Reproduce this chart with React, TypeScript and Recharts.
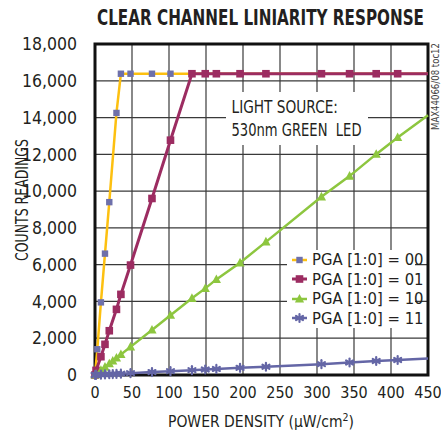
import React from 'react';
import { LineChart, Line, XAxis, YAxis, CartesianGrid, ReferenceArea, Legend } from 'recharts';

const FONT = '"Liberation Sans Narrow", "DejaVu Sans Condensed", Arial, sans-serif';
const INK = '#231f20';

const X_TICKS = [0, 50, 100, 150, 200, 250, 300, 350, 400, 450];
const Y_TICKS = [0, 2000, 4000, 6000, 8000, 10000, 12000, 14000, 16000, 18000];

const SERIES_NAMES = ['PGA [1:0] = 00', 'PGA [1:0] = 01', 'PGA [1:0] = 10', 'PGA [1:0] = 11'];

const pga00X = [0, 3.1, 8, 13.5, 19.3, 29, 35, 48, 77, 102, 450];
const pga00Y = [0, 1400, 3950, 6600, 9400, 14250, 16383, 16383, 16383, 16383, 16383];

const pga01X = [0, 1.4, 8, 13.5, 19.3, 29, 35, 48, 77, 102, 131, 149, 164, 196, 231, 306, 344, 380, 409, 450];
const pga01Y = [0, 250, 995, 1668, 2407, 3570, 4385, 5978, 9600, 12770, 16383, 16383, 16383, 16383, 16383, 16383, 16383, 16383, 16383, 16383];

const pga10X = [0, 1.4, 8, 13.5, 19.3, 24, 29, 35, 48, 77, 102, 131, 149, 164, 196, 231, 306, 344, 380, 409, 450];
const pga10Y = [0, 45, 255, 430, 615, 765, 925, 1115, 1530, 2450, 3250, 4170, 4710, 5200, 6100, 7240, 9690, 10815, 12010, 12920, 14130];

const pga11X = [0, 1.4, 8, 13.5, 19.3, 24, 29, 35, 48, 77, 102, 131, 149, 164, 196, 231, 306, 344, 380, 409, 450];
const pga11Y = [0, 5, 20, 30, 40, 50, 60, 72, 100, 160, 210, 265, 300, 330, 390, 450, 590, 680, 760, 815, 900];

const toPoints = (xs: number[], ys: number[]) => xs.map((x, i) => ({ x, y: ys[i] }));

type Kind = 'square' | 'bigsquare' | 'triangle' | 'asterisk';

const META = [
  { name: SERIES_NAMES[0], line: '#FDC010', marker: '#6E70AA', kind: 'square' as Kind, width: 2.5, data: toPoints(pga00X, pga00Y) },
  { name: SERIES_NAMES[1], line: '#9C2C61', marker: '#9C2C61', kind: 'bigsquare' as Kind, width: 3, data: toPoints(pga01X, pga01Y) },
  { name: SERIES_NAMES[2], line: '#8DC63F', marker: '#8DC63F', kind: 'triangle' as Kind, width: 2.5, data: toPoints(pga10X, pga10Y) },
  { name: SERIES_NAMES[3], line: '#6466A6', marker: '#6466A6', kind: 'asterisk' as Kind, width: 2.5, data: toPoints(pga11X, pga11Y) },
];

function Marker({ kind, color, cx, cy }: { kind: Kind; color: string; cx: number; cy: number }) {
  if (kind === 'square') {
    return <rect x={cx - 3.2} y={cy - 3.2} width={6.4} height={6.4} fill={color} />;
  }
  if (kind === 'bigsquare') {
    return <rect x={cx - 3.8} y={cy - 3.8} width={7.6} height={7.6} fill={color} />;
  }
  if (kind === 'triangle') {
    return <polygon points={`${cx},${cy - 5} ${cx + 4.6},${cy + 3.6} ${cx - 4.6},${cy + 3.6}`} fill={color} />;
  }
  const r = 4;
  return (
    <g stroke={color} strokeWidth={2.2} strokeLinecap="round">
      <line x1={cx} y1={cy - r} x2={cx} y2={cy + r} />
      <line x1={cx - r * 0.87} y1={cy - r * 0.5} x2={cx + r * 0.87} y2={cy + r * 0.5} />
      <line x1={cx - r * 0.87} y1={cy + r * 0.5} x2={cx + r * 0.87} y2={cy - r * 0.5} />
    </g>
  );
}

const makeDot = (m: (typeof META)[number]) => (props: any) => {
  const { cx, cy, index } = props;
  const key = `${m.name}-${index}`;
  if (cx == null || cy == null || index === m.data.length - 1) return <g key={key} />;
  return (
    <g key={key}>
      <Marker kind={m.kind} color={m.marker} cx={cx} cy={cy} />
    </g>
  );
};

function LegendBox(props: any) {
  const payload = props.payload || [];
  return (
    <div style={{ background: '#fff', width: 128, fontFamily: FONT, fontSize: 16.5, color: INK }}>
      {payload.map((p: any) => {
        const m = META.find((s) => s.name === p.value) || META[0];
        return (
          <div key={p.value} style={{ display: 'flex', alignItems: 'center', height: 19.5 }}>
            <svg width={26} height={12} style={{ flex: '0 0 auto' }}>
              <line x1={5} y1={6} x2={20} y2={6} stroke={m.line} strokeWidth={m.width} />
              <Marker kind={m.kind} color={m.marker} cx={12.5} cy={6} />
            </svg>
            <span style={{ marginLeft: -1, whiteSpace: 'pre', lineHeight: '19.5px' }}>{p.value}</span>
          </div>
        );
      })}
    </div>
  );
}

export default function App() {
  return (
    <div style={{ position: 'absolute', left: 0, top: 0, width: 441, height: 440, background: '#fff' }}>
      <LineChart
        width={441}
        height={440}
        margin={{ top: 44, right: 13, bottom: 0, left: 0 }}
        style={{ fontFamily: FONT }}
      >
        <CartesianGrid stroke="#3a3a3a" strokeWidth={1.2} />
        <XAxis
          dataKey="x"
          type="number"
          domain={[0, 450]}
          ticks={X_TICKS}
          height={65}
          axisLine={false}
          tickLine={false}
          tickSize={0}
          tickMargin={12}
          interval={0}
          tick={{ fontSize: 16, fill: INK, fontFamily: FONT }}
        />
        <YAxis
          type="number"
          domain={[0, 18000]}
          ticks={Y_TICKS}
          width={95}
          axisLine={false}
          tickLine={false}
          tickSize={0}
          tickMargin={18}
          interval={0}
          tickFormatter={(v: number) => v.toLocaleString('en-US')}
          tick={{ fontSize: 17.5, fill: INK, fontFamily: FONT }}
        />
        <ReferenceArea x1={0} x2={450} y1={0} y2={18000} fill="none" stroke="#111" strokeWidth={3} ifOverflow="visible" />
        {META.map((m) => (
          <Line
            key={m.name}
            data={m.data}
            dataKey="y"
            name={m.name}
            type="linear"
            stroke={m.line}
            strokeWidth={m.width}
            dot={makeDot(m)}
            activeDot={false}
            isAnimationActive={false}
          />
        ))}
        <Legend
          layout="vertical"
          align="center"
          verticalAlign="middle"
          content={<LegendBox />}
          wrapperStyle={{ left: 287, top: 250, width: 128 }}
        />
      </LineChart>
      <svg
        width={441}
        height={440}
        style={{ position: 'absolute', left: 0, top: 0, pointerEvents: 'none', fontFamily: FONT }}
      >
        <g transform="translate(260.5,25) scale(1,1.25)">
          <text x={0} y={0} textAnchor="middle" fontWeight="bold" fontSize={17} fill={INK} textLength={327} lengthAdjust="spacingAndGlyphs">
            CLEAR CHANNEL LINIARITY RESPONSE
          </text>
        </g>
        <rect x={226} y={92} width={142} height={53} fill="#fff" />
        <text x={231.5} y={113} fontSize={18.5} fill={INK} textLength={106.5} lengthAdjust="spacingAndGlyphs">
          LIGHT SOURCE:
        </text>
        <text x={231.5} y={136} fontSize={18.5} fill={INK} textLength={130} lengthAdjust="spacingAndGlyphs" style={{ whiteSpace: 'pre' }}>
          {'530nm GREEN  LED'}
        </text>
        <text transform="translate(28,200) rotate(-90)" textAnchor="middle" fontSize={17} fill={INK} textLength={122} lengthAdjust="spacingAndGlyphs">
          COUNTS READINGS
        </text>
        <text transform="translate(439,130) rotate(-90)" fontSize={10.5} fill="#444" textLength={87} lengthAdjust="spacingAndGlyphs">
          MAX44066/08 toc12
        </text>
        <text x={261} y={427} textAnchor="middle" fontSize={15.5} fill={INK}>
          POWER DENSITY (μW/cm
          <tspan fontSize={10.5} dy={-6}>2</tspan>
          <tspan dy={6}>)</tspan>
        </text>
      </svg>
    </div>
  );
}
